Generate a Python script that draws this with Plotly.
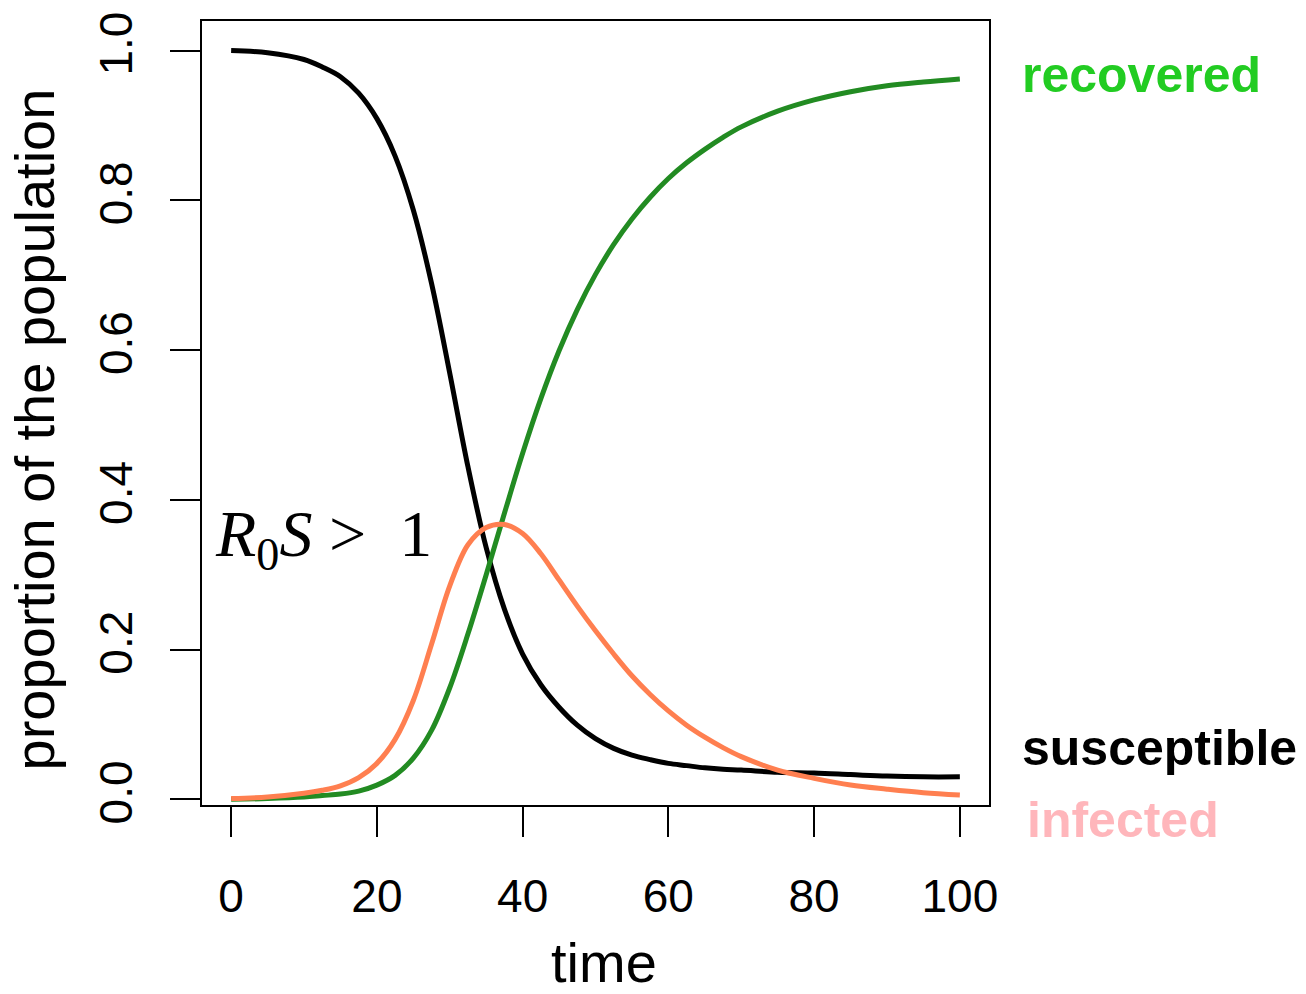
import plotly.graph_objects as go

# SIR epidemic trajectories: proportion of population in each compartment over time
time = [0, 5, 10, 12.5, 15, 17.5, 20, 22.5, 25, 27.5, 30, 32.5, 35, 37.5, 40,
        42.5, 45, 47.5, 50, 52.5, 55, 57.5, 60, 62.5, 65, 67.5, 70, 75, 80,
        85, 90, 95, 100]

susceptible = [1.000, 0.997, 0.988, 0.978, 0.965, 0.943, 0.909, 0.859, 0.787,
               0.689, 0.569, 0.444, 0.336, 0.254, 0.194, 0.153, 0.123, 0.099,
               0.081, 0.068, 0.059, 0.053, 0.048, 0.045, 0.042, 0.040, 0.039,
               0.036, 0.035, 0.033, 0.031, 0.030, 0.030]

infected = [0.001, 0.003, 0.008, 0.012, 0.018, 0.029, 0.048, 0.080, 0.132,
            0.207, 0.285, 0.340, 0.363, 0.367, 0.355, 0.328, 0.293, 0.258,
            0.225, 0.194, 0.165, 0.140, 0.118, 0.099, 0.083, 0.069, 0.057,
            0.039, 0.028, 0.019, 0.0135, 0.0088, 0.0057]

recovered = [0.000, 0.001, 0.003, 0.005, 0.007, 0.011, 0.019, 0.032, 0.055,
             0.092, 0.149, 0.221, 0.300, 0.382, 0.462, 0.535, 0.599, 0.654,
             0.701, 0.741, 0.775, 0.804, 0.829, 0.850, 0.868, 0.884, 0.898,
             0.919, 0.934, 0.945, 0.953, 0.958, 0.962]

x_ticks = [0, 20, 40, 60, 80, 100]
y_ticks = [0.0, 0.2, 0.4, 0.6, 0.8, 1.0]
y_tick_text = ["0.0", "0.2", "0.4", "0.6", "0.8", "1.0"]

SANS = "Liberation Sans, Arial, Helvetica, sans-serif"
SERIF = "Liberation Serif, Times New Roman, serif"
LW = 5

fig = go.Figure()
fig.add_trace(go.Scatter(x=time, y=susceptible, mode="lines",
                         line=dict(color="#000000", width=LW, shape="spline", smoothing=1)))
fig.add_trace(go.Scatter(x=time, y=recovered, mode="lines",
                         line=dict(color="#228B22", width=LW, shape="spline", smoothing=1)))
fig.add_trace(go.Scatter(x=time, y=infected, mode="lines",
                         line=dict(color="#FF7F50", width=LW, shape="spline", smoothing=1)))

axis_common = dict(
    showline=True, mirror=True, linewidth=2, linecolor="#000000",
    ticks="outside", ticklen=30, tickwidth=2, tickcolor="#000000",
    showgrid=False, zeroline=False,
    tickfont=dict(family=SANS, size=46, color="#000000"),
)

fig.update_xaxes(range=[-4, 104], tickvals=x_ticks, ticklabelstandoff=20, **axis_common)
fig.update_yaxes(range=[-0.0076, 1.0394], tickvals=y_ticks, ticktext=y_tick_text,
                 tickangle=-90, ticklabelstandoff=20, **axis_common)

annotations = [
    dict(text="time", x=0.5108, y=-0.2003, xref="paper", yref="paper",
         xanchor="center", yanchor="middle", showarrow=False,
         font=dict(family=SANS, size=56, color="#000000")),
    dict(text="proportion of the population", x=-0.2135, y=0.479, xref="paper", yref="paper",
         xanchor="center", yanchor="middle", textangle=-90, showarrow=False,
         font=dict(family=SANS, size=56, color="#000000")),
    dict(text="<b>recovered</b>", x=1.0394, y=0.9315, xref="paper", yref="paper",
         xanchor="left", yanchor="middle", showarrow=False,
         font=dict(family=SANS, size=50, color="#22CC22")),
    dict(text="<b>susceptible</b>", x=1.0394, y=0.0722, xref="paper", yref="paper",
         xanchor="left", yanchor="middle", showarrow=False,
         font=dict(family=SANS, size=50, color="#000000")),
    dict(text="<b>infected</b>", x=1.0457, y=-0.019, xref="paper", yref="paper",
         xanchor="left", yanchor="middle", showarrow=False,
         font=dict(family=SANS, size=50, color="#FFB6BB")),
    dict(text="<i>R</i><sub>0</sub><i>S</i> >&nbsp;&nbsp;1", x=-2.5, y=0.348,
         xref="x", yref="y", xanchor="left", yanchor="middle", showarrow=False,
         font=dict(family=SERIF, size=66, color="#000000")),
]

fig.update_layout(
    width=1306, height=994,
    margin=dict(l=202, r=317, t=16, b=189),
    paper_bgcolor="#FFFFFF", plot_bgcolor="#FFFFFF",
    showlegend=False,
    annotations=annotations,
)

fig.write_html("out.html")
